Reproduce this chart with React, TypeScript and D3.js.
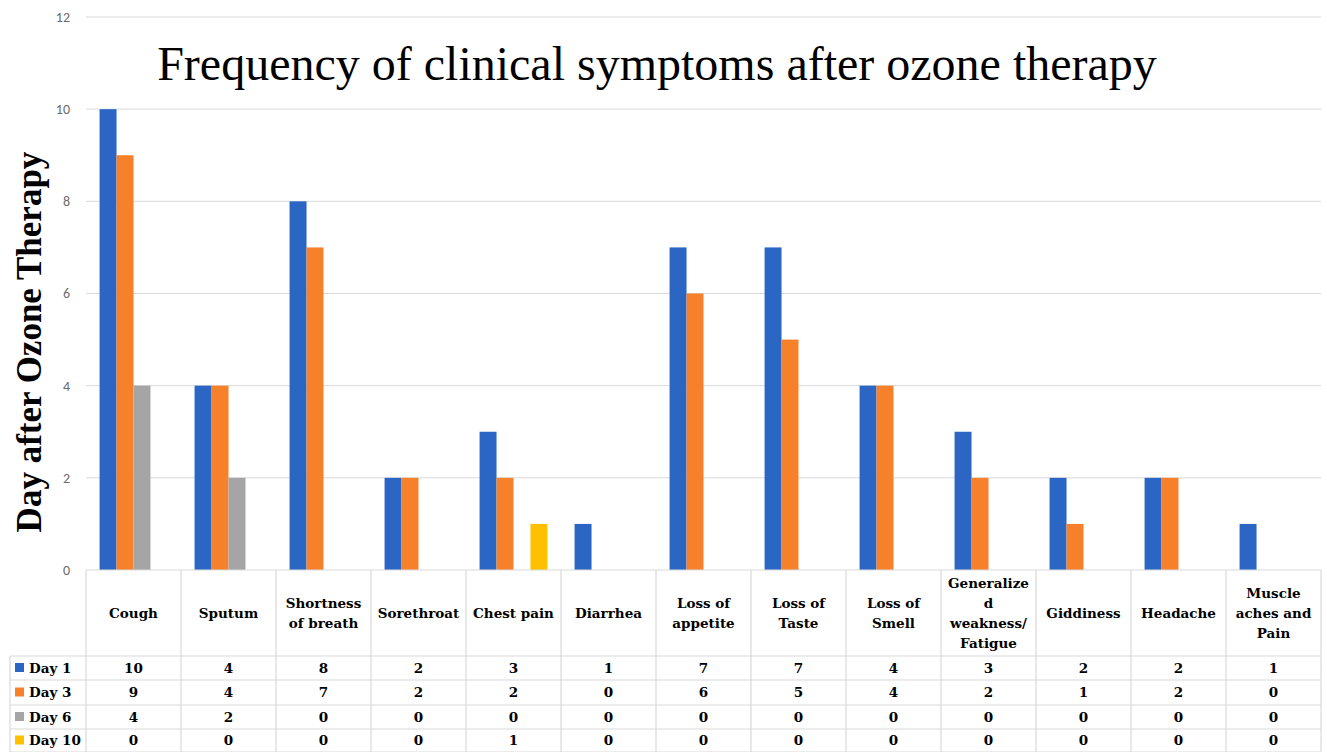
import React from "react";
import * as d3 from "d3";

const categories = [
  "Cough", "Sputum", "Shortness of breath", "Sorethroat", "Chest pain", "Diarrhea",
  "Loss of appetite", "Loss of Taste", "Loss of Smell", "Generalized weakness/ Fatigue",
  "Giddiness", "Headache", "Muscle aches and Pain",
];
const headerLines = [
  ["Cough"], ["Sputum"], ["Shortness", "of breath"], ["Sorethroat"], ["Chest pain"], ["Diarrhea"],
  ["Loss of", "appetite"], ["Loss of", "Taste"], ["Loss of", "Smell"], ["Generalize", "d", "weakness/", "Fatigue"],
  ["Giddiness"], ["Headache"], ["Muscle", "aches and", "Pain"],
];
const seriesNames = ["Day 1", "Day 3", "Day 6", "Day 10"];
const day1 = [10, 4, 8, 2, 3, 1, 7, 7, 4, 3, 2, 2, 1];
const day3 = [9, 4, 7, 2, 2, 0, 6, 5, 4, 2, 1, 2, 0];
const day6 = [4, 2, 0, 0, 0, 0, 0, 0, 0, 0, 0, 0, 0];
const day10 = [0, 0, 0, 0, 1, 0, 0, 0, 0, 0, 0, 0, 0];
const seriesValues = [day1, day3, day6, day10];
const colors = ["#2B66C5", "#F7802A", "#A5A5A5", "#FFC000"];
const yTicks = [0, 2, 4, 6, 8, 10, 12];

const W = 1327, H = 752;
const left = 86, right = 1321, top = 17, bottom = 570;

export default function App() {
  const x = d3.scaleBand<string>().domain(categories).range([left, right]).paddingInner(0).paddingOuter(0);
  const x1 = d3.scaleBand<string>().domain(seriesNames).range([0, x.bandwidth()]).paddingInner(0).paddingOuter(0.8);
  const y = d3.scaleLinear().domain([0, 12]).range([bottom, top]);
  const rowY = [656, 680, 705, 729, 752];
  const gridCol = "#D9D9D9";
  const serif = "'Liberation Serif', serif";
  const tableFont = "'DejaVu Serif', serif";
  return (
    <div style={{ position: "absolute", left: 0, top: 0 }}>
      <svg width={W} height={H} style={{ display: "block", background: "#fff" }}>
        {yTicks.map((t) => (
          <g key={t}>
            {t > 0 && <line x1={left} x2={right} y1={y(t)} y2={y(t)} stroke={gridCol} strokeWidth={1} />}
            <text x={70} y={y(t)} dy="0.35em" textAnchor="end" fontFamily="Carlito, 'Liberation Sans', sans-serif" fontSize={14} fill="#6b6b6b">{t}</text>
          </g>
        ))}
        {seriesValues.map((vals, si) =>
          vals.map((v, ci) =>
            v > 0 ? (
              <rect key={`${si}-${ci}`} x={(x(categories[ci]) as number) + (x1(seriesNames[si]) as number)} width={x1.bandwidth()} y={y(v)} height={y(0) - y(v)} fill={colors[si]} />
            ) : null
          )
        )}
        <text x={657} y={80} textAnchor="middle" fontFamily={serif} fontSize={48} fill="#000">Frequency of clinical symptoms after ozone therapy</text>
        <text transform={`translate(41,342) rotate(-90)`} textAnchor="middle" fontFamily={serif} fontWeight="bold" fontSize={35} fill="#000">Day after Ozone Therapy</text>
        <g stroke={gridCol} strokeWidth={1.2} fill="none">
          <line x1={left} x2={right} y1={bottom} y2={bottom} />
          {rowY.map((ry) => <line key={ry} x1={10} x2={right} y1={ry} y2={ry} />)}
          <line x1={10} x2={10} y1={rowY[0]} y2={H} />
          {categories.map((c) => <line key={c} x1={x(c) as number} x2={x(c) as number} y1={bottom} y2={H} />)}
          <line x1={right} x2={right} y1={bottom} y2={H} />
        </g>
        {headerLines.map((lines, ci) => {
          const cx = (x(categories[ci]) as number) + x.bandwidth() / 2;
          const lh = 20;
          const y0 = 613 - ((lines.length - 1) * lh) / 2;
          return (
            <text key={ci} x={cx} textAnchor="middle" fontFamily={tableFont} fontWeight="bold" fontSize={13.5} fill="#000">
              {lines.map((l, li) => (
                <tspan key={li} x={cx} y={y0 + li * lh} dy="0.35em">{l}</tspan>
              ))}
            </text>
          );
        })}
        {seriesNames.map((s, si) => {
          const cy = (rowY[si] + rowY[si + 1]) / 2;
          return (
            <g key={s}>
              <rect x={15} y={cy - 5} width={9} height={9} fill={colors[si]} />
              <text x={29} y={cy} dy="0.35em" fontFamily={tableFont} fontWeight="bold" fontSize={13.5} fill="#000">{s}</text>
              {seriesValues[si].map((v, ci) => (
                <text key={ci} x={(x(categories[ci]) as number) + x.bandwidth() / 2} y={cy} dy="0.35em" textAnchor="middle" fontFamily={tableFont} fontWeight="bold" fontSize={13.5} fill="#000">{v}</text>
              ))}
            </g>
          );
        })}
      </svg>
    </div>
  );
}
